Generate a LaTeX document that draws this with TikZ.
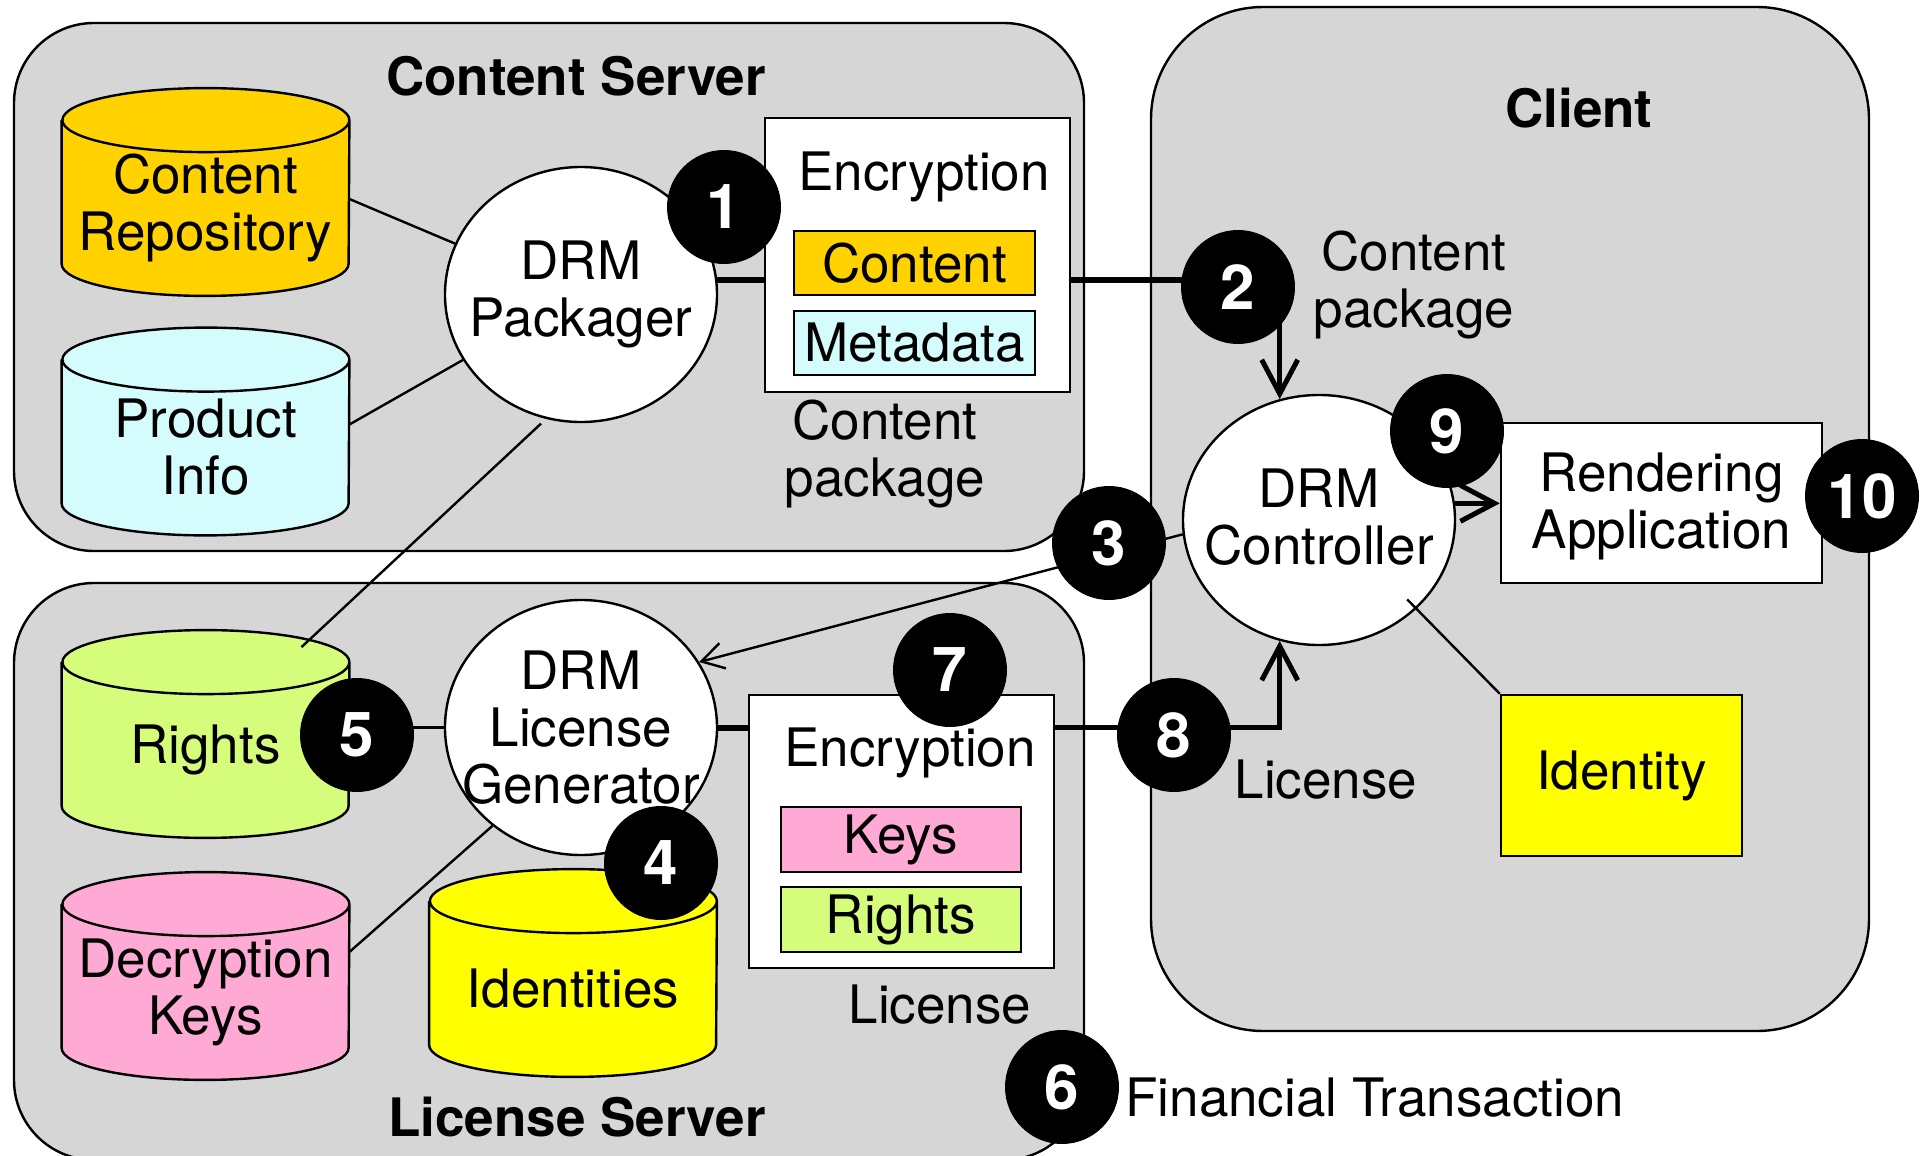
\documentclass[tikz,border=0pt]{standalone}
\usepackage{fontspec}
\setmainfont{TeX Gyre Heros}
\usepackage{tikz}
\usetikzlibrary{shapes,calc,positioning,arrows.meta}

\definecolor{srvgray}{RGB}{214,214,214}
\definecolor{dbgold}{RGB}{255,210,0}
\definecolor{dbcyan}{RGB}{213,252,252}
\definecolor{dbgreen}{RGB}{213,252,122}
\definecolor{dbpink}{RGB}{255,170,213}
\definecolor{dbyellow}{RGB}{255,255,0}

\pgfdeclarelayer{back}
\pgfdeclarelayer{mid}
\pgfsetlayers{back,mid,main}

% database drum behind a named node
\newcommand\dbshape[2]{%
  \begin{pgfonlayer}{mid}
    \draw[line width=1.2pt, fill=#2] ([yshift=-8pt]#1.north west) -- ([yshift=24pt]#1.south west)
      arc[start angle=180, end angle=360, x radius=71.75pt, y radius=16pt]
      -- ([yshift=-8pt]#1.north east)
      arc[start angle=0, end angle=360, x radius=71.75pt, y radius=16pt];
  \end{pgfonlayer}}

\begin{document}
\begin{tikzpicture}[x=0.5pt,y=-0.5pt,
    every node/.append style={font=\fontsize{26.5}{28.5}\selectfont, align=center},
    title/.style={font=\fontsize{26.5}{28.5}\selectfont\bfseries},
    server/.style={draw, fill=srvgray, rounded corners=40pt, line width=1.2pt, inner sep=0pt},
    db/.style={rectangle, minimum width=143.5pt, minimum height=103.5pt, inner sep=0pt},
    drm/.style={ellipse, draw, fill=white, line width=1.2pt, inner sep=0pt,
                minimum width=136pt, minimum height=127.5pt},
    box/.style={draw, line width=1.2pt, inner sep=0pt},
    num/.style={circle, fill=black, text=white, minimum size=57pt, inner sep=0pt,
                font=\fontsize{31}{31}\selectfont\bfseries},
    link/.style={line width=1.2pt},
    linkarr/.style={line width=1.2pt, -{Straight Barb[length=11pt,width=13pt]}},
    flow/.style={line width=3pt},
    flowarr/.style={line width=2.5pt, -{Straight Barb[length=17pt,width=18pt]}}]
    \useasboundingbox (0,0) rectangle (1924,1156);

    % servers
    \begin{pgfonlayer}{back}
      \node[server, minimum width=535pt, minimum height=264pt] (cs) at (549,287) {};
      \node[server, minimum width=535pt, minimum height=288.5pt] (ls) at (549,871.5) {};
      \node[server, rounded corners=56pt, minimum width=359pt, minimum height=512pt] (cl) at (1510,519) {};
    \end{pgfonlayer}
    \node[title] at (576,76) {Content Server};
    \node[title] at (1579,108) {Client};
    \node[title] at (577,1117) {License Server};

    % databases
    \node[db] (repo) at (205.5,208) {Content\\Repository};
    \node[db] (info) at (205.5,447.5) {Product\\Info};
    \node[db] (rights) at (205.5,750) {Rights};
    \node[db] (keys) at (205.5,992) {Decryption\\Keys};
    \node[db] (idents) at (573,989) {Identities};
    \dbshape{repo}{dbgold}
    \dbshape{info}{dbcyan}
    \dbshape{rights}{dbgreen}
    \dbshape{keys}{dbpink}
    \dbshape{idents}{dbyellow}

    % drm parts
    \node[drm] (pkg) at (581,294.5) {};
    \node at (pkg) {DRM\\Packager};
    \node[drm] (gen) at (581,727.5) {};
    \node at (gen) {DRM\\License\\Generator};
    \node[drm, minimum height=125pt] (ctrl) at (1319,520) {};
    \node at ($(ctrl)+(0,-3)$) {DRM\\Controller};

    % packages
    \node[box, fill=white, minimum width=152.5pt, minimum height=137pt] (enc1) at (917.5,255) {};
    \node at (924,177) {Encryption};
    \node[box, fill=dbgold, minimum width=120.5pt, minimum height=32pt] (cont) at (914.5,263) {Content};
    \node[box, fill=dbcyan, minimum width=120.5pt, minimum height=32pt] (meta) at (914.5,343) {Metadata};
    \node at (885,454) {Content\\package};

    \node[box, fill=white, minimum width=152.5pt, minimum height=136.5pt] (enc2) at (901.5,831.5) {};
    \node at (910,753) {Encryption};
    \node[box, fill=dbpink, minimum width=120pt, minimum height=32.5pt] (kbox) at (901,839.5) {Keys};
    \node[box, fill=dbgreen, minimum width=120pt, minimum height=32.5pt] (rbox) at (901,919.5) {Rights};
    \node at (940,1005) {License};

    \node[box, fill=white, minimum width=160.5pt, minimum height=80pt] (render) at (1661.5,503) {};
    \node at ($(render)+(0,3)$) {Rendering\\Application};
    \node[box, fill=dbyellow, minimum width=120.5pt, minimum height=80.5pt] (ident) at (1621.5,775.5) {Identity};

    \node at (1414,285) {Content\\package};
    \node at (1326,780) {License};

    % step marks
    \coordinate (c1) at (724,207);
    \coordinate (c2) at (1238,287);
    \coordinate (c3) at (1109,543);
    \coordinate (c4) at (661,863);
    \coordinate (c5) at (357,735);
    \coordinate (c6) at (1062,1087);
    \coordinate (c7) at (950,670);
    \coordinate (c8) at (1174,735);
    \coordinate (c9) at (1447,431);
    \coordinate (c10) at (1862,496);
    \coordinate (idtop) at ($(idents.north)+(0,-17)$);

    % connectors
    \draw[link] ($(repo.east)+(0,-9)$) -- (pkg.158);
    \draw[link] ($(info.east)+(0,-23)$) -- (pkg.209);
    \draw[link] ($(pkg.252)+(0,6)$) -- ($(rights.north)+(96,1)$);
    \draw[link] (rights.east |- gen.west) -- (gen.west);
    \draw[link] (gen.228) -- ($(keys.east)+(0,-40)$);
    \draw[link] ($(gen.south)+(8,0)$) -- ($(gen.south)+(8,0)$ |- idtop);
    \draw[flow] (pkg.6) -- (pkg.6 -| enc1.west);
    \draw[flow] (enc1.east |- pkg.6) -- (pkg.6 -| c2);
    \draw[flowarr] (ctrl.108 |- c2) -- (ctrl.108);
    \draw[linkarr] (ctrl.186) -- (gen.29);
    \draw[flow] (gen.east) -- (enc2.west |- gen.east);
    \draw[flowarr] (enc2.east |- gen.east) -- (gen.east -| ctrl.252) -- (ctrl.252);
    \draw[flowarr] (ctrl.7) -- (ctrl.7 -| render.west);
    \draw[link] ($(ctrl)!.9!(ctrl.318)$) -- (ident.north west);

    \node[num] (n1) at (c1) {1};
    \node[num] (n2) at (c2) {2};
    \node[num] (n3) at (c3) {3};
    \node[num] (n4) at (c4) {4};
    \node[num] (n5) at (c5) {5};
    \node[num] (n6) at (c6) {6};
    \node[num] (n7) at (c7) {7};
    \node[num] (n8) at (c8) {8};
    \node[num] (n9) at (c9) {9};
    \node[num] (n10) at (c10) {10};
    \node[anchor=west, inner sep=2pt] at (1121,1098) {Financial Transaction};
\end{tikzpicture}
\end{document}
